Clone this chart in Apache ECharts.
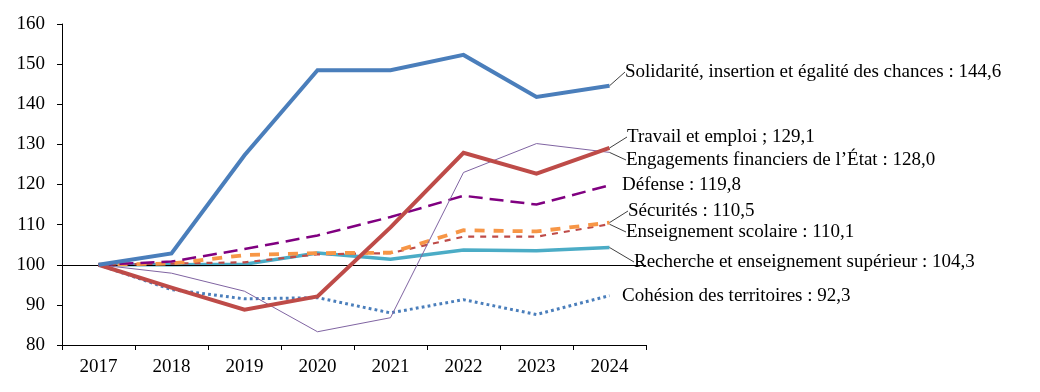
<!DOCTYPE html>
<html>
<head>
<meta charset="utf-8">
<script src="https://cdn.jsdelivr.net/npm/echarts@6/dist/echarts.min.js"></script>
<style>
html,body{margin:0;padding:0;background:#fff;}
#chart{width:1040px;height:392px;}
</style>
</head>
<body>
<div id="chart"></div>
<script>
var years = ['2017','2018','2019','2020','2021','2022','2023','2024'];
var yTicks = {min: 80, max: 160, interval: 10};

var solidarite   = [100, 102.8, 127.3, 148.5, 148.5, 152.3, 141.8, 144.6];
var travail      = [100, 94.3, 88.8, 92.1, 109.3, 127.9, 122.7, 129.1];
var engagements  = [100, 97.9, 93.4, 83.3, 86.8, 123.0, 130.2, 128.0];
var defense      = [100, 100.8, 103.9, 107.3, 111.9, 117.2, 115.0, 119.8];
var securites    = [100, 100.3, 102.4, 102.9, 103.0, 108.6, 108.3, 110.5];
var enseignement = [100, 100.3, 100.6, 102.6, 102.9, 107.0, 107.0, 110.1];
var recherche    = [100, 100.0, 100.1, 102.9, 101.4, 103.7, 103.5, 104.3];
var cohesion     = [100, 93.8, 91.5, 91.8, 88.0, 91.3, 87.6, 92.3];

var labelTexts = [
  'Solidarité, insertion et égalité des chances : 144,6',
  'Travail et emploi ; 129,1',
  'Engagements financiers de l\u2019État : 128,0',
  'Défense : 119,8',
  'Sécurités : 110,5',
  'Enseignement scolaire : 110,1',
  'Recherche et enseignement supérieur : 104,3',
  'Cohésion des territoires : 92,3'
];

var FONT = '"Liberation Serif", "DejaVu Serif", serif';
var FS = 19;

var styles = [
  {data: solidarite,   color: '#4A7EBB', width: 4,   type: 'solid', lx: 625, ly: 72,  line: true},
  {data: travail,      color: '#BE4B48', width: 4,   type: 'solid', lx: 627, ly: 137, line: true},
  {data: engagements,  color: '#8064A2', width: 1,   type: 'solid', lx: 626, ly: 160, line: true},
  {data: defense,      color: '#800080', width: 2.5, type: [14, 7], lx: 622, ly: 185, line: false},
  {data: securites,    color: '#F79646', width: 3.8, type: [10, 9], lx: 628, ly: 211, line: true},
  {data: enseignement, color: '#BE4B48', width: 2.2, type: [6, 6], lx: 626, ly: 232, line: true},
  {data: recherche,    color: '#4BACC6', width: 3.5, type: 'solid', lx: 634, ly: 262, line: true},
  {data: cohesion,     color: '#4A7EBB', width: 3,   type: [2.8, 3.2], lx: 622, ly: 296, line: false}
];

var series = styles.map(function (s, si) {
  var last = s.data.length - 1;
  return {
    type: 'line',
    name: labelTexts[si],
    data: s.data.map(function (v, i) {
      return i === last ? {value: v, label: {show: true}} : v;
    }),
    symbol: 'circle',
    symbolSize: 0,
    showSymbol: true,
    z: 10 - si,
    lineStyle: {color: s.color, width: s.width, type: s.type, cap: 'butt', join: 'miter'},
    itemStyle: {color: s.color},
    label: {
      show: false,
      formatter: labelTexts[si],
      color: '#000',
      fontFamily: FONT,
      fontSize: FS
    },
    labelLine: {show: s.line, lineStyle: {color: '#404040', width: 1}},
    labelLayout: function () {
      return {x: s.lx, y: s.ly, align: 'left', verticalAlign: 'middle'};
    },
    markLine: si === 0 ? {
      silent: true,
      symbol: 'none',
      label: {show: false},
      lineStyle: {color: '#000', width: 1, type: 'solid'},
      data: [{yAxis: 100}]
    } : undefined
  };
});

var chart = echarts.init(document.getElementById('chart'), null, {renderer: 'canvas'});
chart.setOption({
  animation: false,
  backgroundColor: '#fff',
  grid: {left: 62, right: 394, top: 24, bottom: 47, containLabel: false},
  xAxis: {
    type: 'category',
    data: years,
    boundaryGap: true,
    axisLine: {lineStyle: {color: '#000', width: 1}},
    axisTick: {show: true, length: 5, interval: 0, lineStyle: {color: '#000'}},
    axisLabel: {color: '#000', fontFamily: FONT, fontSize: FS, margin: 13, interval: 0}
  },
  yAxis: {
    type: 'value',
    min: yTicks.min,
    max: yTicks.max,
    interval: yTicks.interval,
    splitLine: {show: false},
    axisLine: {show: true, lineStyle: {color: '#000', width: 1}},
    axisTick: {show: true, length: 5, lineStyle: {color: '#000'}},
    axisLabel: {color: '#000', fontFamily: FONT, fontSize: FS, margin: 17}
  },
  series: series
});
</script>
</body>
</html>
